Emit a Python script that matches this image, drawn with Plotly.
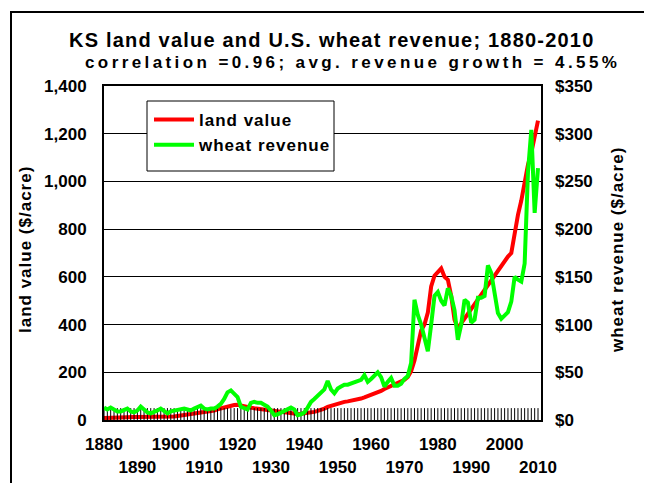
import plotly.graph_objects as go

years = list(range(1880, 2011))

land_value = [
    8, 9, 10, 11, 12, 13, 13, 13, 13, 13,
    13, 13, 13, 13, 12, 12, 12, 13, 13, 14,
    14, 15, 17, 19, 20, 22, 25, 28, 31, 33,
    34, 35, 37, 40, 45, 49, 52, 57, 60, 63,
    64, 62, 58, 55, 52, 49, 47, 45, 43, 42,
    40, 36, 33, 31, 30, 29, 28, 26, 25, 26,
    27, 28, 31, 34, 38, 42, 48, 55, 60, 65,
    68, 72, 76, 78, 80, 82, 86, 90, 95, 100,
    104, 110, 116, 122, 130, 136, 142, 146, 152, 160,
    168, 180, 205, 250, 320, 375, 400, 450, 560, 605,
    620, 635, 600, 588, 520, 420, 385, 405, 432, 445,
    465, 485, 505, 525, 545, 565, 585, 605, 625, 645,
    665, 685, 700, 790, 860, 920, 1000, 1070, 1120, 1190, 1255,
]

wheat_revenue = [
    13, 11, 13, 11, 9, 9, 10, 12, 9, 8,
    10, 14, 11, 8, 7, 8, 10, 12, 9, 7,
    9, 10, 10, 11, 12, 11, 10, 12, 13, 15,
    12, 11, 12, 12, 14, 17, 22, 29, 31, 28,
    24, 14, 12, 11, 18, 19, 18, 18, 16, 14,
    10, 5, 6, 8, 10, 12, 13, 11, 5, 6,
    8, 13, 19, 22, 25, 28, 32, 41, 32, 28,
    33, 35, 37, 37, 38, 39, 40, 42, 47, 40,
    43, 46, 50, 45, 35, 40, 44, 36, 36, 38,
    43, 46, 60, 126, 110, 100, 85, 72, 100, 130,
    134, 125, 120, 138, 130, 115, 84, 100, 126, 123,
    102, 105, 128, 128, 130, 162, 154, 132, 112, 106,
    110, 113, 124, 150, 147, 145, 164, 260, 304, 217, 264,
]

x_tick_years = [1880, 1890, 1900, 1910, 1920, 1930, 1940, 1950, 1960, 1970, 1980, 1990, 2000, 2010]
x_tick_labels = ["1880", "<br>1890", "1900", "<br>1910", "1920", "<br>1930", "1940",
                 "<br>1950", "1960", "<br>1970", "1980", "<br>1990", "2000", "<br>2010"]
left_ticks = [0, 200, 400, 600, 800, 1000, 1200, 1400]
left_labels = ["0", "200", "400", "600", "800", "1,000", "1,200", "1,400"]
right_ticks = [0, 50, 100, 150, 200, 250, 300, 350]
right_labels = ["$0", "$50", "$100", "$150", "$200", "$250", "$300", "$350"]

FONT = "Liberation Sans, Arial, sans-serif"
OFF = 8  # page body margin
W, H = 644, 475
# plot area in screen coordinates
SL, SR, ST, SB = 104, 541, 86, 420
L, T = SL - OFF, ST - OFF
R, B = W - (SR - OFF), H - (SB - OFF)
PW, PH = SR - SL, SB - ST
XRANGE = [1880, 2010.9]


def px(xs):
    return (xs - SL) / PW


def py(ys):
    return (SB - ys) / PH


fig = go.Figure()
fig.add_trace(go.Scatter(
    x=years, y=land_value, mode="lines", yaxis="y",
    name="<span style='letter-spacing:1px'>land value</span>",
    line=dict(color="#FF0000", width=4),
))
fig.add_trace(go.Scatter(
    x=years, y=wheat_revenue, mode="lines", yaxis="y2",
    name="<span style='letter-spacing:1px'>wheat revenue</span>",
    line=dict(color="#00FF00", width=4),
))
# per-year category tick marks along the bottom axis (half clipped by the plot area)
fig.add_trace(go.Scatter(
    x=years, y=[0] * len(years), yaxis="y", mode="markers",
    marker=dict(symbol="line-ns-open", size=17, color="black",
                line=dict(color="black", width=1)),
    cliponaxis=True, showlegend=False, hoverinfo="skip",
))

tickfont = dict(family=FONT, size=17, color="black", weight="bold")

fig.update_layout(
    width=W, height=H,
    margin=dict(l=L, r=R, t=T, b=B, autoexpand=False),
    paper_bgcolor="white", plot_bgcolor="white",
    font=dict(family=FONT, color="black"),
    showlegend=True,
    legend=dict(
        x=px(149), y=py(102), xanchor="left", yanchor="top",
        bgcolor="rgba(0,0,0,0)", borderwidth=0,
        font=dict(family=FONT, size=17, color="black", weight="bold"),
        itemwidth=40, tracegroupgap=0,
    ),
    xaxis=dict(
        range=XRANGE, automargin=False, tickangle=0,
        tickmode="array", tickvals=x_tick_years, ticktext=x_tick_labels,
        ticks="", showline=True, linecolor="black", linewidth=2, mirror=True,
        showgrid=False, zeroline=False, tickfont=tickfont, ticklabelstandoff=8,
    ),
    yaxis=dict(
        range=[0, 1400], automargin=False,
        tickmode="array", tickvals=left_ticks, ticktext=left_labels,
        showgrid=True, gridcolor="black", gridwidth=1,
        showline=True, linecolor="black", linewidth=2, mirror=True,
        zeroline=False, ticks="", tickfont=tickfont, ticklabelstandoff=12,
    ),
    yaxis2=dict(
        range=[0, 350], overlaying="y", side="right", automargin=False,
        tickmode="array", tickvals=right_ticks, ticktext=right_labels,
        showgrid=False, zeroline=False, showline=False, ticks="",
        tickfont=tickfont, ticklabelstandoff=13,
    ),
    shapes=[
        dict(type="rect", xref="paper", yref="paper",
             x0=px(11), x1=px(646), y0=py(540), y1=py(12),
             line=dict(color="black", width=2), fillcolor="rgba(0,0,0,0)", layer="above"),
        dict(type="rect", xref="paper", yref="paper",
             x0=px(147), x1=px(334), y0=py(171), y1=py(101),
             line=dict(color="black", width=1), fillcolor="white", layer="above"),
    ],
    annotations=[
        dict(text="<span style='letter-spacing:1.2px'>KS land value and U.S. wheat revenue; 1880-2010</span>",
             xref="paper", yref="paper", x=px(331), y=py(40), xanchor="center", yanchor="middle",
             showarrow=False, font=dict(family=FONT, size=20, color="black", weight="bold")),
        dict(text="<span style='letter-spacing:3.4px'>correlation =0.96; avg. revenue growth = 4.55%</span>",
             xref="paper", yref="paper", x=px(352), y=py(62), xanchor="center", yanchor="middle",
             showarrow=False, font=dict(family=FONT, size=17, color="black", weight="bold")),
        dict(text="<span style='letter-spacing:1px'>land value ($/acre)</span>",
             xref="paper", yref="paper", x=px(25), y=py(250), xanchor="center", yanchor="middle",
             textangle=-90, showarrow=False,
             font=dict(family=FONT, size=17, color="black", weight="bold")),
        dict(text="<span style='letter-spacing:1px'>wheat revenue ($/acre)</span>",
             xref="paper", yref="paper", x=px(617), y=py(250), xanchor="center", yanchor="middle",
             textangle=-90, showarrow=False,
             font=dict(family=FONT, size=17, color="black", weight="bold")),
    ],
)

fig.write_html("out.html")
